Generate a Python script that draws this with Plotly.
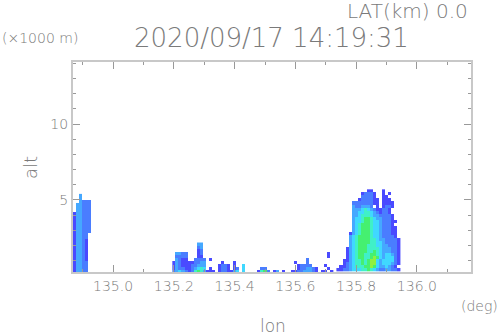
import plotly.graph_objects as go

# radar echo levels, one string per altitude row (top row first), '.' = no echo
# spaces in the strings are only there to make columns easier to count
colors = ['#4a4aff', '#4a7dff', '#45a8ff', '#40d8ff', '#40f0c8', '#45f070', '#90f040']

step_lon = 0.01
step_alt = 0.2

left_lon0 = 134.873
left_alt_top = 5.3
left_rows = [
    "..3...",
    "..3...",
    "..3222",
    ".33222",
    ".33222",
    ".33222",
    "133222",
    "133222",
    "133222",
    "133222",
    "133222",
    "133222",
    "133222",
    "13322.",
    "13322.",
    "13321.",
    "13321.",
    "13321.",
    "13321.",
    "13321.",
    "13321.",
    "13321.",
    "13322.",
    "13322.",
    "13322.",
    "13322.",
]

mid_lon0 = 135.2
mid_alt_top = 2.1
mid_rows = [
    "........33",
    "........23",
    "........12",
    ".3322...12 .......... .......... .......... .......... .1",
    ".2222...11 .......... .......... .......... .......... .1",
    ".3211..222 2.1....... .......... .......... ....2.....",
    "1321111223 3.....1... 1......... .......... 1...2.....",
    "1321112233 3....1221. 1..4...... .......... .12222.... 1",
    "1322112345 4.1..1221. 12.4.....2 2......... .1223321.. .1",
    "2343212565 3111.12211 34.4....15 62.13.1..1 12233321.1 1.1",
]

right_lon0 = 135.74
right_alt_top = 5.6
right_rows = [
    "..........11...1",
    "........12221..1.1",
    "........22221..11",
    ".......1222211.111",
    ".....222222211.1111",
    ".....3223332.1.1221",
    ".....3334543211221",
    ".....3344554321221",
    ".....33455543322221",
    ".....34456654332221",
    ".....344566544322211",
    ".....34566654432221",
    ".....345666544322211",
    ".....345666544322211",
    "....1345666544322211",
    "....3456666544322221",
    "....34566665543322221",
    "....34566665544322221",
    "....34566655544332221",
    "...134566655554333221",
    "...134566655654333221",
    "...134566556654344321",
    "...134566556764344421",
    "..1134556567743444421",
    "..1234556567743444321",
    ".1123455566764334321",
    "112234445565432233221",
]


def to_grid(rows):
    rows = [r.replace(' ', '') for r in rows]
    width = max(len(r) for r in rows)
    grid = []
    for r in rows:
        r = r.ljust(width, '.')
        grid.append([None if ch == '.' else int(ch) for ch in r])
    return grid


scale = []
for i, c in enumerate(colors):
    scale.append([i / len(colors), c])
    scale.append([(i + 1) / len(colors), c])


def echo_trace(rows, lon0, alt_top):
    z = to_grid(rows)
    lons = [lon0 + step_lon * i for i in range(len(z[0]))]
    alts = [alt_top - step_alt * i for i in range(len(z))]
    return go.Heatmap(x=lons, y=alts, z=z, colorscale=scale, zmin=0.5, zmax=7.5,
                      showscale=False, hoverongaps=False)


fig = go.Figure()
fig.add_trace(echo_trace(left_rows, left_lon0, left_alt_top))
fig.add_trace(echo_trace(mid_rows, mid_lon0, mid_alt_top))
fig.add_trace(echo_trace(right_rows, right_lon0, right_alt_top))

gray = '#7a7a7a'
font = dict(family='DejaVu Sans Light, DejaVu Sans', color=gray)


def label(text, x, y, size, **kw):
    # x, y are page pixels
    fig.add_annotation(text=text, xref='paper', yref='paper', showarrow=False,
                       x=(x - 73) / 398, y=(272 - y) / 210, xanchor='center', yanchor='middle',
                       font=dict(size=size, **font), **kw)


fig.update_layout(
    width=498, height=336, autosize=False,
    margin=dict(l=73, r=27, t=62, b=64),
    paper_bgcolor='white', plot_bgcolor='white',
    font=dict(size=14, **font),
    showlegend=False,
)
axis_style = dict(showgrid=False, zeroline=False, showline=True, mirror='allticks',
                  linecolor='#c8c8c8', linewidth=2, ticks='inside', tickcolor='#999999',
                  tickwidth=1, ticklen=7)
fig.update_xaxes(range=[134.868, 136.178], tick0=135, dtick=0.2, tickformat='.1f',
                 minor=dict(dtick=0.1, tick0=135, ticks='inside', ticklen=3, tickcolor='#999999'),
                 **axis_style)
fig.update_yaxes(range=[0.26, 14.08], tick0=0, dtick=5,
                 minor=dict(dtick=1, tick0=0, ticks='inside', ticklen=3, tickcolor='#999999'),
                 **axis_style)

label('2020/09/17 14:19:31', 271, 38, 26)
label('LAT(km) 0.0', 407, 11, 20)
label('(×1000 m)', 40, 38, 14)
label('alt', 30, 168, 18, textangle=-90)
label('lon', 273, 326, 17)
label('(deg)', 479, 306, 14)

fig.write_html("out.html", post_script="document.body.style.margin='0';",
               config={'displayModeBar': False})
